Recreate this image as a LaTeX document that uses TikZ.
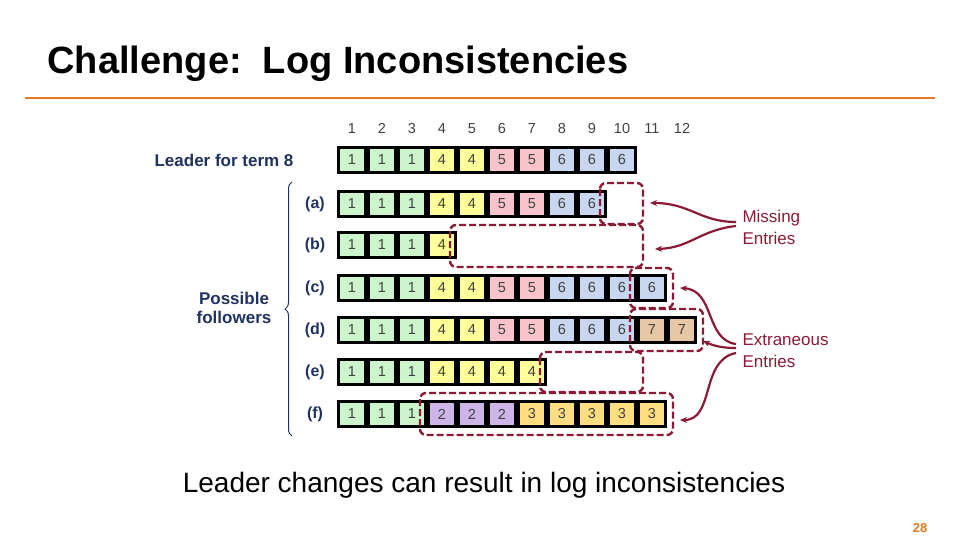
\documentclass[tikz,border=0pt]{standalone}
\usepackage{fontspec}
\setmainfont{Liberation Sans}
\usetikzlibrary{decorations.pathreplacing,arrows.meta}
\definecolor{cg}{HTML}{CCF5CC}
\definecolor{cy}{HTML}{FFFF99}
\definecolor{cp}{HTML}{F9C3CC}
\definecolor{cb}{HTML}{C8D6F0}
\definecolor{cbr}{HTML}{E8C8A4}
\definecolor{cpu}{HTML}{CDB5E8}
\definecolor{co}{HTML}{FFDD80}
\definecolor{dred}{HTML}{8B1A35}
\definecolor{dblue}{HTML}{1F3260}
\definecolor{orng}{HTML}{E87722}
\tikzset{
 cell/.style={draw=black,line width=2.6pt,minimum width=27.4pt,minimum height=25pt,inner sep=0pt,font=\fontsize{14.5}{14.5}\selectfont,text=black!75},
 dbox/.style={draw=dred,line width=2.4pt,dash pattern=on 7pt off 3pt,rounded corners=6pt},
 arr/.style={draw=dred,line width=2.2pt,-{Stealth[length=7pt,width=6pt]}},
 rlab/.style={font=\fontsize{16}{16}\selectfont\bfseries,text=dblue},
 hdr/.style={font=\fontsize{14.5}{14.5}\selectfont,text=black!75,anchor=base}
}
\begin{document}
\begin{tikzpicture}[x=1pt,y=-1pt]
\useasboundingbox (0,0) rectangle (960,540);
\node[anchor=base west,font=\fontsize{38}{38}\selectfont\bfseries] (title) at (44,74) {Challenge:\ \ Log Inconsistencies};
\draw[orng,line width=2.5pt] (25,98) coordinate (l1) -- (935,98) coordinate (l2);
\foreach \i in {1,...,12} \node[hdr] (h\i) at (322+30*\i,134) {\i};
\node[rlab,anchor=east,font=\fontsize{17}{17}\selectfont\bfseries] (lead) at (297,160) {Leader for term 8};
% rows
\def\row#1#2#3{\foreach \v/\c [count=\k] in {#3} \node[cell,fill=\c] (#1\k) at (322+30*\k,#2) {\v};}
\row{L}{160}{1/cg,1/cg,1/cg,4/cy,4/cy,5/cp,5/cp,6/cb,6/cb,6/cb}
\row{a}{204}{1/cg,1/cg,1/cg,4/cy,4/cy,5/cp,5/cp,6/cb,6/cb}
\row{b}{245}{1/cg,1/cg,1/cg,4/cy}
\row{c}{288}{1/cg,1/cg,1/cg,4/cy,4/cy,5/cp,5/cp,6/cb,6/cb,6/cb,6/cb}
\row{d}{330}{1/cg,1/cg,1/cg,4/cy,4/cy,5/cp,5/cp,6/cb,6/cb,6/cb,7/cbr,7/cbr}
\row{e}{372}{1/cg,1/cg,1/cg,4/cy,4/cy,4/cy,4/cy}
\row{f}{414}{1/cg,1/cg,1/cg,2/cpu,2/cpu,2/cpu,3/co,3/co,3/co,3/co,3/co}
\foreach \r/\y in {a/204,b/245,c/288,d/330,e/372,f/414} \node[rlab] (lab\r) at (315,\y) {(\r)};
% dashed boxes
\draw[dbox] (600,183) rectangle (643,224);
\draw[dbox] (450,225) rectangle (643,267);
\draw[dbox] (630,268) rectangle (673,308);
\draw[dbox] (630,309) rectangle (703,351);
\draw[dbox] (540,352) rectangle (643,392);
\draw[dbox] (420,393) rectangle (673,435);
% brace
\draw[dblue,line width=1pt,decorate,decoration={brace,amplitude=7pt}] (292,436) -- (292,182) coordinate[pos=0.5] (bm);
\node[rlab,align=center,font=\fontsize{17}{19}\selectfont\bfseries] (pf) at (234,308) {Possible\\followers};
% labels
\node[anchor=west,text=dred,align=left,font=\fontsize{17}{22}\selectfont] (miss) at (739,227) {Missing\\Entries};
\node[anchor=west,text=dred,align=left,font=\fontsize{17}{22}\selectfont] (extra) at (739,351) {Extraneous\\Entries};
\draw[arr] (miss.west) ++(-3,-5) .. controls (700,222) and (690,203) .. (650,203);
\draw[arr] (miss.west) ++(-3,-1) .. controls (700,230) and (690,248) .. (655,249);
\draw[arr] (extra.west) ++(-3,-7) .. controls (705,340) and (715,290) .. (680,288);
\draw[arr] (extra.west) ++(-3,-3) .. controls (720,348) and (712,345) .. (703,341);
\draw[arr] (extra.west) ++(-3,2) .. controls (700,360) and (715,420) .. (680,420);
\node[font=\fontsize{28}{28}\selectfont] (bot) at (484,485) {Leader changes can result in log inconsistencies};
\node[text=orng,font=\fontsize{13}{13}\selectfont\bfseries] (pg) at (920,528) {28};
\end{tikzpicture}
\end{document}
